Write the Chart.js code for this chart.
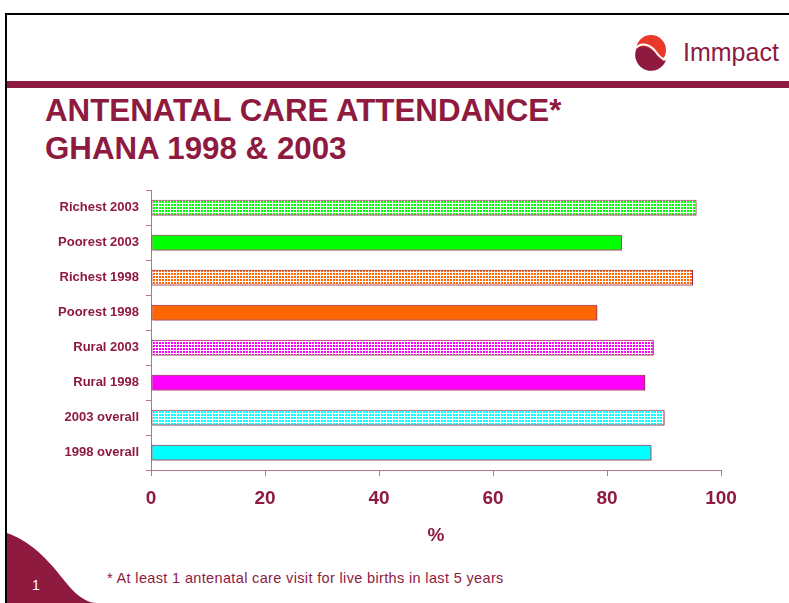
<!DOCTYPE html>
<html>
<head>
<meta charset="utf-8">
<title>Antenatal care attendance - Ghana 1998 & 2003</title>
<script src="https://cdn.jsdelivr.net/npm/chart.js@4.4.1/dist/chart.umd.min.js"></script>
<style>
    html, body {
        margin: 0;
        padding: 0;
        background: #ffffff;
        width: 789px;
        height: 603px;
        overflow: hidden;
        font-family: 'Liberation Sans', Arial, sans-serif;
    }
    #slide {
        position: relative;
        width: 789px;
        height: 603px;
    }
    #deco {
        position: absolute;
        left: 0;
        top: 0;
    }
    .title {
        position: absolute;
        left: 45px;
        top: 92px;
        font-size: 31.3px;
        line-height: 37.7px;
        font-weight: bold;
        color: #8e1a3f;
        white-space: nowrap;
    }
    .footnote {
        position: absolute;
        left: 107px;
        top: 570px;
        font-size: 14.5px;
        line-height: 16px;
        letter-spacing: 0.35px;
        color: #8e1a3f;
        white-space: nowrap;
    }
    .slide-no {
        position: absolute;
        left: 32px;
        top: 577px;
        font-size: 14px;
        line-height: 16px;
        color: #ffffff;
    }
    .chart-box {
        position: absolute;
        left: 0;
        top: 180px;
        width: 789px;
        height: 380px;
    }
</style>
</head>
<body>
<div id="slide">
    <svg id="deco" width="789" height="603">
        <!-- slide frame -->
        <line x1="6" y1="14" x2="789" y2="14" stroke="#000" stroke-width="2"/>
        <line x1="6" y1="13" x2="6" y2="603" stroke="#000" stroke-width="2"/>
        <!-- header band -->
        <rect x="7" y="81" width="782" height="7" fill="#8e1a3f"/>
        <!-- corner shape -->
        <path d="M7,533 C35,543 52,565 68,585 C78,597 88,603 97,603 L7,603 Z" fill="#8e1a3f"/>
        <!-- logo -->
        <circle cx="651" cy="50" r="15" fill="#e8392b"/>
        <path d="M636,50 C640,44 650,46 656,54 C660,60 664,62 666,60 A15,15 0 0 1 636,50 Z" fill="#8e1a3f"/>
        <path d="M636,48 C641,42 650,44 656,52 C660,58 664,60 666,58" fill="none" stroke="#fff" stroke-width="2"/>
        <text x="683" y="61" font-family="'Liberation Sans', Arial, sans-serif" font-size="25" fill="#8e1a3f">Immpact</text>
    </svg>

    <div class="title">ANTENATAL CARE ATTENDANCE*<br>GHANA 1998 &amp; 2003</div>

    <div class="chart-box">
        <canvas id="ancChart" width="789" height="380"></canvas>
    </div>

    <div class="footnote">* At least 1 antenatal care visit for live births in last 5 years</div>
    <div class="slide-no">1</div>
</div>

<script>
// データ
const categories = ['Richest 2003', 'Poorest 2003', 'Richest 1998', 'Poorest 1998',
                    'Rural 2003', 'Rural 1998', '2003 overall', '1998 overall'];
const attendance = [95.7, 82.6, 95.1, 78.3, 88.2, 86.7, 90.1, 87.8];
const xTicks = [0, 20, 40, 60, 80, 100];

// 見た目
const barColors = ['#00ff00', '#00ff00', '#ff6600', '#ff6600',
                   '#ff00ff', '#ff00ff', '#00ffff', '#00ffff'];
const hatched = [true, false, true, false, true, false, true, false];

const MAROON = '#8e1a3f';
const AXIS = '#b8718f';
const FONT = "'Liberation Sans', Arial, sans-serif";

// 格子パターン（色のセルに白い線）
function gridPattern(color) {
    const c = document.createElement('canvas');
    c.width = 3;
    c.height = 3;
    const g = c.getContext('2d');
    g.fillStyle = color;
    g.fillRect(0, 0, 3, 3);
    g.fillStyle = '#ffffff';
    g.fillRect(2, 0, 1, 3);
    g.fillRect(0, 2, 3, 1);
    return g.createPattern(c, 'repeat');
}

// バーの影
const barShadow = {
    id: 'barShadow',
    beforeDatasetsDraw(chart) {
        const ctx = chart.ctx;
        ctx.save();
        ctx.shadowColor = 'rgba(142, 26, 63, 0.45)';
        ctx.shadowOffsetX = 2;
        ctx.shadowOffsetY = 2;
        ctx.shadowBlur = 0;
    },
    afterDatasetsDraw(chart) {
        chart.ctx.restore();
    },
};

document.addEventListener('DOMContentLoaded', () => {
    const ctx = document.getElementById('ancChart').getContext('2d');

    new Chart(ctx, {
        type: 'bar',
        data: {
            labels: categories,
            datasets: [{
                data: attendance,
                backgroundColor: barColors.map((c, i) => hatched[i] ? gridPattern(c) : c),
                borderColor: MAROON,
                borderWidth: 1,
                borderSkipped: false,
                categoryPercentage: 1,
                barPercentage: 0.45,
            }],
        },
        options: {
            indexAxis: 'y',
            responsive: false,
            animation: false,
            layout: {
                padding: { left: 0, right: 68, top: 10, bottom: 0 },
            },
            plugins: {
                legend: { display: false },
                tooltip: { enabled: false },
            },
            scales: {
                x: {
                    type: 'linear',
                    min: 0,
                    max: 100,
                    afterBuildTicks: (axis) => {
                        axis.ticks = xTicks.map(v => ({ value: v }));
                    },
                    grid: {
                        drawOnChartArea: false,
                        drawTicks: true,
                        tickLength: 6,
                        color: AXIS,
                    },
                    border: { display: true, color: AXIS, width: 1 },
                    ticks: {
                        padding: 11,
                        color: MAROON,
                        font: { family: FONT, size: 19, weight: 'bold' },
                    },
                    title: {
                        display: true,
                        text: '%',
                        color: MAROON,
                        padding: { top: 0, bottom: 13 },
                        font: { family: FONT, size: 19, weight: 'bold' },
                    },
                    afterFit: (axis) => { axis.height = 90; },
                },
                y: {
                    type: 'category',
                    grid: {
                        offset: true,
                        drawOnChartArea: false,
                        drawTicks: true,
                        tickLength: 5,
                        color: AXIS,
                    },
                    border: { display: true, color: AXIS, width: 1 },
                    ticks: {
                        padding: 7,
                        color: MAROON,
                        font: { family: FONT, size: 13, weight: 'bold' },
                    },
                    afterFit: (axis) => {
                        axis.width = 151;
                        axis.paddingTop = 0;
                        axis.paddingBottom = 0;
                    },
                },
            },
        },
        plugins: [barShadow],
    });
});
</script>
</body>
</html>
